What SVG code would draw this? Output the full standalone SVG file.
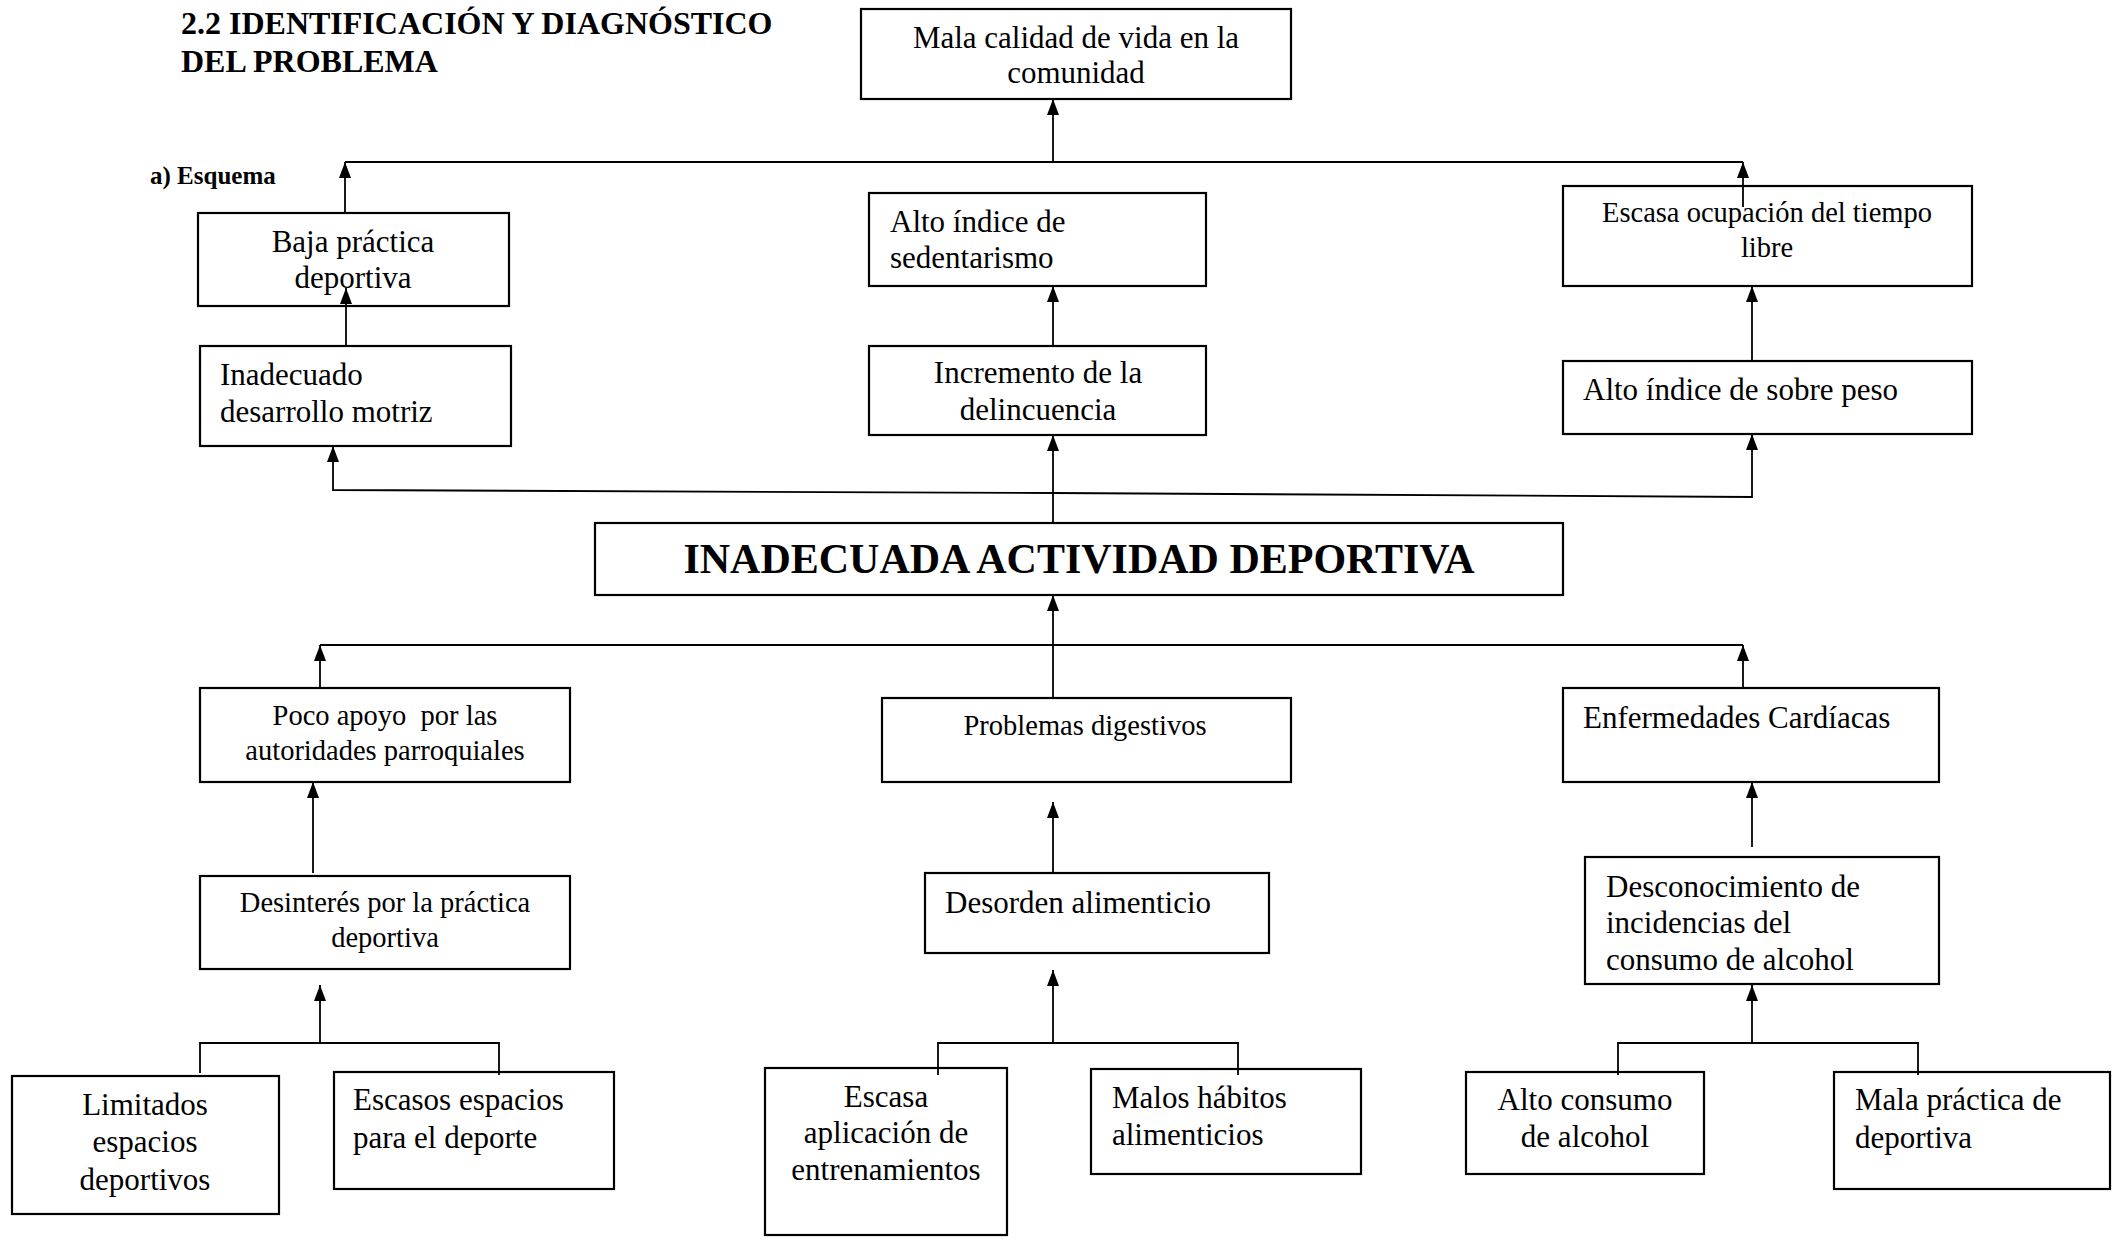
<svg xmlns="http://www.w3.org/2000/svg" width="2122" height="1240" viewBox="0 0 2122 1240">
<defs>
<style>
.box{fill:#fff;stroke:#000;stroke-width:2.2}
.t{font-family:"Liberation Serif","Times New Roman",serif;font-size:31px;fill:#000}
.s{font-size:28.5px}
.c{text-anchor:middle}
.b{font-weight:bold}
.ln{fill:none;stroke:#000;stroke-width:1.8}
.ar{marker-end:url(#ah)}
</style>
<marker id="ah" markerUnits="userSpaceOnUse" markerWidth="17" markerHeight="13" refX="16" refY="6" orient="auto">
<path d="M0,0 L16,6 L0,12 z" fill="#000"/>
</marker>
</defs>
<rect width="2122" height="1240" fill="#fff"/>

<g id="titles">
<text class="t b" x="181" y="34" style="font-size:32px">2.2 IDENTIFICACIÓN Y DIAGNÓSTICO</text>
<text class="t b" x="181" y="72" style="font-size:32px">DEL PROBLEMA</text>
<text class="t b" x="150" y="184" style="font-size:25px">a) Esquema</text>
</g>

<g id="n-mala-calidad">
<rect class="box" x="861" y="9" width="430" height="90"/>
<text class="t c" x="1076" y="48">Mala calidad de vida en la</text>
<text class="t c" x="1076" y="83">comunidad</text>
</g>
<g id="n-baja-practica">
<rect class="box" x="198" y="213" width="311" height="93"/>
<text class="t c" x="353" y="252">Baja práctica</text>
<text class="t c" x="353" y="288">deportiva</text>
</g>
<g id="n-sedentarismo">
<rect class="box" x="869" y="193" width="337" height="93"/>
<text class="t" x="890" y="232">Alto índice de</text>
<text class="t" x="890" y="268">sedentarismo</text>
</g>
<g id="n-tiempo-libre">
<rect class="box" x="1563" y="186" width="409" height="100"/>
<text class="t s c" x="1767" y="222">Escasa ocupación del tiempo</text>
<text class="t s c" x="1767" y="257">libre</text>
</g>
<g id="n-desarrollo-motriz">
<rect class="box" x="200" y="346" width="311" height="100"/>
<text class="t" x="220" y="385">Inadecuado</text>
<text class="t" x="220" y="422">desarrollo motriz</text>
</g>
<g id="n-delincuencia">
<rect class="box" x="869" y="346" width="337" height="89"/>
<text class="t c" x="1038" y="383">Incremento de la</text>
<text class="t c" x="1038" y="420">delincuencia</text>
</g>
<g id="n-sobre-peso">
<rect class="box" x="1563" y="361" width="409" height="73"/>
<text class="t" x="1583" y="400">Alto índice de sobre peso</text>
</g>
<g id="n-central">
<rect class="box" x="595" y="523" width="968" height="72"/>
<text class="t b c" x="1079" y="573" style="font-size:42px">INADECUADA ACTIVIDAD DEPORTIVA</text>
</g>
<g id="n-poco-apoyo">
<rect class="box" x="200" y="688" width="370" height="94"/>
<text class="t s c" x="385" y="725" style="white-space:pre">Poco apoyo  por las</text>
<text class="t s c" x="385" y="760">autoridades parroquiales</text>
</g>
<g id="n-digestivos">
<rect class="box" x="882" y="698" width="409" height="84"/>
<text class="t s c" x="1085" y="735">Problemas digestivos</text>
</g>
<g id="n-cardiacas">
<rect class="box" x="1563" y="688" width="376" height="94"/>
<text class="t" x="1583" y="728">Enfermedades Cardíacas</text>
</g>
<g id="n-desinteres">
<rect class="box" x="200" y="876" width="370" height="93"/>
<text class="t s c" x="385" y="912">Desinterés por la práctica</text>
<text class="t s c" x="385" y="947">deportiva</text>
</g>
<g id="n-desorden">
<rect class="box" x="925" y="873" width="344" height="80"/>
<text class="t" x="945" y="913">Desorden alimenticio</text>
</g>
<g id="n-desconocimiento">
<rect class="box" x="1585" y="857" width="354" height="127"/>
<text class="t" x="1606" y="897">Desconocimiento de</text>
<text class="t" x="1606" y="933">incidencias del</text>
<text class="t" x="1606" y="970">consumo de alcohol</text>
</g>
<g id="n-limitados">
<rect class="box" x="12" y="1076" width="267" height="138"/>
<text class="t c" x="145" y="1115">Limitados</text>
<text class="t c" x="145" y="1152">espacios</text>
<text class="t c" x="145" y="1190">deportivos</text>
</g>
<g id="n-escasos-espacios">
<rect class="box" x="334" y="1072" width="280" height="117"/>
<text class="t" x="353" y="1110">Escasos espacios</text>
<text class="t" x="353" y="1148">para el deporte</text>
</g>
<g id="n-entrenamientos">
<rect class="box" x="765" y="1068" width="242" height="167"/>
<text class="t c" x="886" y="1107">Escasa</text>
<text class="t c" x="886" y="1143">aplicación de</text>
<text class="t c" x="886" y="1180">entrenamientos</text>
</g>
<g id="n-malos-habitos">
<rect class="box" x="1091" y="1069" width="270" height="105"/>
<text class="t" x="1112" y="1108">Malos hábitos</text>
<text class="t" x="1112" y="1145">alimenticios</text>
</g>
<g id="n-alto-consumo">
<rect class="box" x="1466" y="1072" width="238" height="102"/>
<text class="t c" x="1585" y="1110">Alto consumo</text>
<text class="t c" x="1585" y="1147">de alcohol</text>
</g>
<g id="n-mala-practica">
<rect class="box" x="1834" y="1072" width="276" height="117"/>
<text class="t" x="1855" y="1110">Mala práctica de</text>
<text class="t" x="1855" y="1148">deportiva</text>
</g>

<g id="connectors">
<path class="ln ar" d="M1053,162 L1053,99"/>
<path class="ln" d="M345,162 L1743,162"/>
<path class="ln ar" d="M345,213 L345,162"/>
<path class="ln ar" d="M1743,207 L1743,162"/>
<path class="ln ar" d="M346,346 L346,288"/>
<path class="ln ar" d="M1053,346 L1053,286"/>
<path class="ln ar" d="M1752,361 L1752,286"/>
<path class="ln ar" d="M1053,523 L1053,435"/>
<path class="ln ar" d="M1053,493 L333,490 L333,446"/>
<path class="ln ar" d="M1053,493 L1752,497 L1752,434"/>
<path class="ln ar" d="M1053,698 L1053,595"/>
<path class="ln" d="M320,645 L1743,645"/>
<path class="ln ar" d="M320,688 L320,645"/>
<path class="ln ar" d="M1743,688 L1743,645"/>
<path class="ln ar" d="M313,873 L313,782"/>
<path class="ln ar" d="M1053,873 L1053,802"/>
<path class="ln ar" d="M1752,847 L1752,782"/>
<path class="ln ar" d="M320,1043 L320,985"/>
<path class="ln" d="M200,1073 L200,1043 L499,1043 L499,1075"/>
<path class="ln ar" d="M1053,1043 L1053,970"/>
<path class="ln" d="M938,1075 L938,1043 L1238,1043 L1238,1075"/>
<path class="ln ar" d="M1752,1043 L1752,985"/>
<path class="ln" d="M1618,1075 L1618,1043 L1918,1043 L1918,1075"/>
</g>
</svg>
